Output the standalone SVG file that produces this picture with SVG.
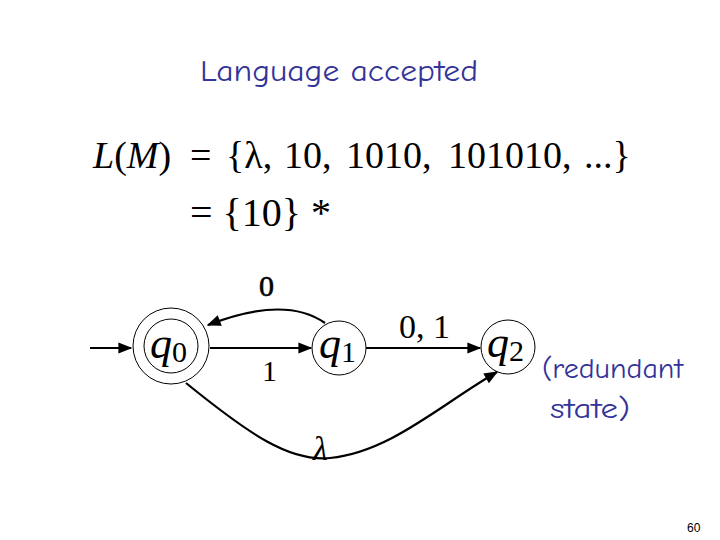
<svg xmlns="http://www.w3.org/2000/svg" width="720" height="540" viewBox="0 0 720 540">
<style>
.blue{font-family:"Comic Neue","DejaVu Sans",sans-serif;fill:#333399}
.m{font-family:"Liberation Serif",serif;fill:#000}
.st{fill:none;stroke:#000;stroke-width:1}
.e{fill:none;stroke:#000;stroke-width:2.2}
</style>
<defs>
<marker id="ah" viewBox="0 0 10 10" refX="9" refY="5" markerWidth="18" markerHeight="14" markerUnits="userSpaceOnUse" orient="auto">
<path d="M0,1 L10,5 L0,9 z" fill="#000"/>
</marker>
</defs>
<rect width="720" height="540" fill="#fff"/>
<text class="blue" x="200" y="81" font-size="30" textLength="278" lengthAdjust="spacingAndGlyphs">Language accepted</text>
<text class="m" font-size="38" y="168"><tspan x="93" font-style="italic">L</tspan><tspan>(</tspan><tspan font-style="italic">M</tspan><tspan>)</tspan><tspan x="190">=</tspan><tspan x="226">{λ,</tspan><tspan x="284">10,</tspan><tspan x="346">1010,</tspan><tspan x="448">101010,</tspan><tspan x="584">...}</tspan></text>
<text class="m" x="190" y="226" font-size="40">= {10} *</text>
<g id="connectors">
<line class="e" x1="90" y1="348" x2="131" y2="348" marker-end="url(#ah)"/>
<line class="e" x1="210" y1="348" x2="311" y2="348" marker-end="url(#ah)"/>
<path class="e" d="M325,323 Q285,295 208,325" marker-end="url(#ah)"/>
<line class="e" x1="366" y1="348" x2="480" y2="348" marker-end="url(#ah)"/>
<path class="e" d="M186,383 C250,435 290,462 330,458 C390,452 440,405 497,372" marker-end="url(#ah)"/>
<text class="m" x="259" y="296" font-size="30" stroke="#000" stroke-width="0.6">0</text>
<text class="m" x="262" y="381" font-size="30">1</text>
<text class="m" x="399" y="338" font-size="34">0, 1</text>
<text class="m" x="313" y="460" font-size="34" font-style="italic">λ</text>
</g>
<g id="q0">
<circle class="st" cx="171" cy="346" r="38"/>
<circle class="st" cx="171" cy="346" r="27"/>
<text class="m" x="150" y="358" font-size="44"><tspan font-style="italic">q</tspan><tspan font-size="30" dy="4">0</tspan></text>
</g>
<g id="q1">
<circle class="st" cx="339" cy="348" r="27"/>
<text class="m" x="319" y="358" font-size="44"><tspan font-style="italic">q</tspan><tspan font-size="30" dy="4">1</tspan></text>
</g>
<g id="q2">
<circle class="st" cx="508" cy="347" r="27"/>
<text class="m" x="487" y="357" font-size="44"><tspan font-style="italic">q</tspan><tspan font-size="30" dy="4">2</tspan></text>
</g>
<text class="blue" x="542" y="378" font-size="29" textLength="141" lengthAdjust="spacingAndGlyphs">(redundant</text>
<text class="blue" x="550" y="418" font-size="29" textLength="80" lengthAdjust="spacingAndGlyphs">state)</text>
<text x="687" y="532" font-family="Liberation Sans Narrow, Liberation Sans, sans-serif" font-size="12" fill="#000">60</text>
</svg>
